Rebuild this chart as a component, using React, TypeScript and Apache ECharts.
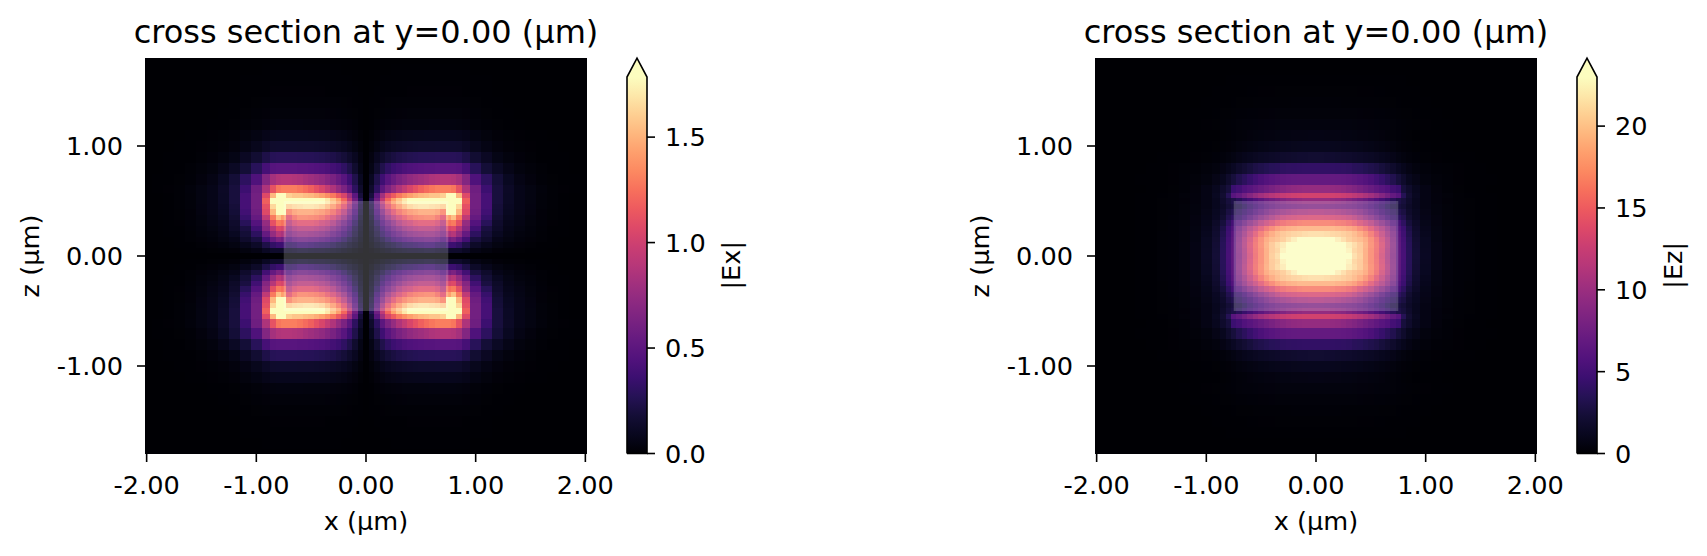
import React, { useEffect, useRef } from "react";
import * as echarts from "echarts";

const FONT = "DejaVu Sans";
const titleText = "cross section at y=0.00 (µm)";
const xName = "x (µm)";
const zName = "z (µm)";
const spatialTicks = [-2, -1, 0, 1, 2];
const spatialTicksZ = [-1, 0, 1];
const exTicks = [0, 0.5, 1, 1.5];
const ezTicks = [0, 5, 10, 15, 20];
const exMax = 1.785;
const ezMax = 23;
const boxX = [-0.75, 0.75];
const boxZ = [-0.5, 0.5];

const magmaStops = ["#000004", "#08071e", "#140e36", "#251255", "#3b0f70", "#51127c", "#641a80", "#782281", "#8c2981", "#a1307e", "#b73779", "#ca3e72", "#de4968", "#ed5a5f", "#f7705c", "#fc8961", "#fe9f6d", "#feb77e", "#fecf92", "#fde7a9", "#fcfdbf"];

// left half of the mesh (the field plots are mirror-symmetric about x=0 and z=0)
const xEdges = [-2.05, -1.95, -1.85, -1.75, -1.65, -1.55, -1.45, -1.35, -1.25, -1.15, -1.05, -0.95, -0.875, -0.825, -0.775, -0.725, -0.675, -0.625, -0.575, -0.525, -0.475, -0.425, -0.375, -0.325, -0.275, -0.225, -0.175, -0.125, -0.075, -0.025, 0.025];
const zEdges = [1.85, 1.75, 1.65, 1.55, 1.45, 1.35, 1.25, 1.15, 1.05, 0.95, 0.85, 0.75, 0.65, 0.575, 0.525, 0.475, 0.425, 0.375, 0.325, 0.275, 0.225, 0.175, 0.125, 0.075, 0.025, -0.025];

const exRows = [
  [0,0,0,0,0,0,0,0,0,0,0,0,0,0,0,0,0,0,0,0,0,0,0,0,0,0,0,0,0,0],
  [0,0,0,0,0,0,0,.0005,.001,.001,.001,.002,.002,.002,.002,.002,.002,.002,.002,.002,.002,.002,.002,.002,.002,.001,.001,.001,0,0],
  [0,0,0,0,0,0,0,.001,.001,.002,.002,.003,.004,.004,.004,.004,.004,.004,.004,.004,.004,.004,.004,.003,.003,.003,.002,.001,.001,0],
  [0,0,0,0,0,0,0,.001,.001,.002,.004,.005,.006,.006,.006,.006,.006,.006,.006,.006,.006,.006,.005,.005,.005,.004,.003,.002,.001,0],
  [0,0,0,0,0,0,.001,.001,.002,.004,.007,.009,.011,.011,.011,.011,.011,.011,.011,.011,.011,.01,.01,.009,.009,.007,.006,.004,.002,0],
  [0,0,0,0,0,.001,.001,.003,.005,.008,.013,.018,.021,.022,.022,.022,.022,.021,.021,.021,.021,.02,.019,.018,.016,.014,.011,.007,.003,0],
  [0,0,0,0,.001,.001,.003,.005,.008,.014,.022,.031,.036,.037,.037,.037,.037,.037,.036,.036,.035,.034,.033,.031,.028,.024,.019,.013,.005,0],
  [0,0,0,.001,.002,.003,.006,.01,.018,.032,.048,.068,.08,.082,.082,.082,.082,.082,.081,.08,.078,.076,.073,.069,.062,.054,.042,.028,.012,0],
  [0,0,.001,.002,.003,.006,.01,.018,.031,.056,.084,.119,.14,.144,.144,.144,.144,.143,.141,.14,.137,.133,.127,.12,.109,.095,.074,.049,.021,0],
  [0,.001,.002,.003,.005,.011,.019,.035,.059,.108,.162,.23,.27,.278,.278,.278,.278,.275,.273,.27,.265,.257,.246,.232,.211,.184,.143,.095,.04,0],
  [0,.001,.003,.005,.01,.02,.035,.065,.11,.18,.28,.4,.47,.48,.48,.48,.48,.47,.47,.46,.45,.44,.42,.39,.36,.31,.24,.15,.06,0],
  [0,.002,.004,.008,.015,.03,.055,.1,.18,.3,.44,.67,.82,.87,.88,.88,.87,.85,.82,.79,.76,.73,.68,.63,.56,.48,.37,.24,.1,0],
  [0,.002,.006,.012,.025,.045,.07,.12,.2,.36,.58,.85,1.12,1.27,1.3,1.3,1.3,1.27,1.23,1.18,1.11,1.04,.95,.86,.75,.64,.5,.3,.14,0],
  [0,.001,.004,.01,.02,.045,.07,.115,.2,.4,.6,1.07,1.52,1.84,1.87,1.61,1.57,1.57,1.54,1.52,1.48,1.43,1.36,1.28,1.16,1.04,.8,.5,.2,0],
  [0,.001,.004,.01,.02,.045,.07,.115,.2,.4,.6,1.18,1.84,1.87,1.87,1.87,1.87,1.87,1.87,1.87,1.84,1.79,1.7,1.57,1.43,1.21,.93,.59,.27,0],
  [0,.001,.004,.01,.02,.043,.07,.107,.187,.4,.6,1.11,1.64,1.82,1.84,1.6,1.64,1.66,1.68,1.68,1.66,1.62,1.52,1.39,1.25,1.07,.8,.5,.23,0],
  [0,.001,.004,.008,.018,.04,.064,.1,.18,.38,.58,1.07,1.52,1.79,1.79,1.29,1.39,1.43,1.43,1.43,1.39,1.36,1.29,1.2,1.07,.89,.66,.43,.2,0],
  [0,.001,.003,.007,.018,.036,.059,.09,.16,.34,.54,.93,1.29,1.55,1.43,1.07,1.21,1.29,1.29,1.27,1.25,1.2,1.11,1.02,.89,.75,.55,.36,.16,0],
  [0,.001,.003,.006,.016,.032,.054,.08,.14,.28,.46,.75,1.11,1.29,1.25,.89,1.02,1.07,1.07,1.07,1.04,.98,.93,.84,.71,.59,.45,.29,.125,0],
  [0,.001,.002,.005,.014,.027,.046,.07,.125,.21,.38,.68,.89,1.07,1.04,.75,.84,.89,.89,.89,.86,.82,.77,.68,.59,.48,.36,.23,.107,0],
  [0,0,.002,.004,.012,.023,.036,.06,.1,.18,.3,.54,.75,.89,.84,.64,.71,.75,.75,.73,.71,.68,.62,.55,.48,.39,.3,.2,.09,0],
  [0,0,.001,.003,.009,.018,.027,.045,.07,.14,.21,.39,.54,.64,.59,.46,.54,.57,.57,.55,.54,.5,.46,.41,.36,.29,.21,.14,.07,0],
  [0,0,.001,.002,.005,.011,.018,.027,.045,.08,.125,.23,.32,.36,.36,.3,.32,.36,.36,.34,.32,.3,.29,.25,.21,.18,.13,.09,.045,0],
  [0,0,0,.001,.002,.004,.007,.012,.018,.036,.054,.107,.14,.14,.14,.125,.14,.16,.16,.15,.14,.14,.125,.116,.1,.08,.06,.036,.018,0],
  [0,0,0,0,0,0,0,0,0,0,0,0,0,0,0,0,0,0,0,0,0,0,0,0,0,0,0,0,0,0],
];

const ezRows = [
  [0,0,0,0,0,0,0,0,0,0,.001,.002,.003,.004,.004,.005,.005,.006,.006,.007,.007,.007,.008,.008,.008,.008,.009,.009,.01,.01],
  [0,0,0,0,0,0,0,.001,.001,.003,.004,.006,.008,.01,.011,.012,.014,.015,.016,.017,.017,.018,.018,.019,.019,.019,.02,.02,.02,.02],
  [0,0,0,0,0,0,.001,.002,.004,.006,.011,.015,.02,.024,.028,.031,.034,.037,.04,.042,.044,.045,.046,.047,.048,.048,.049,.05,.05,.05],
  [0,0,0,0,0,.001,.002,.003,.006,.012,.02,.027,.036,.043,.05,.056,.06,.067,.07,.075,.078,.08,.083,.085,.086,.087,.088,.09,.09,.09],
  [0,0,0,0,.001,.002,.003,.006,.011,.02,.03,.04,.05,.06,.07,.085,.1,.11,.12,.125,.135,.14,.145,.15,.15,.155,.157,.16,.16,.16],
  [0,0,0,0,.001,.003,.005,.01,.018,.03,.05,.07,.09,.11,.13,.16,.18,.2,.21,.22,.235,.245,.255,.26,.265,.27,.27,.28,.28,.28],
  [0,0,0,.001,.002,.005,.008,.016,.028,.05,.075,.1,.14,.17,.21,.26,.3,.33,.35,.37,.39,.41,.42,.43,.44,.45,.45,.46,.46,.46],
  [0,0,0,.001,.003,.006,.01,.015,.022,.03,.04,.065,.1,.14,.2,.27,.33,.38,.43,.47,.51,.55,.58,.6,.63,.65,.67,.68,.69,.69],
  [0,0,0,.002,.005,.009,.012,.016,.025,.04,.07,.11,.17,.24,.33,.45,.55,.64,.72,.79,.85,.91,.96,1,1.05,1.08,1.11,1.13,1.15,1.15],
  [0,0,0,.004,.008,.015,.025,.035,.045,.08,.14,.2,.32,.46,.62,.85,1,1.15,1.3,1.42,1.53,1.62,1.72,1.8,1.88,1.94,1.99,2.03,2.07,2.07],
  [0,0,0,.01,.02,.035,.05,.08,.12,.18,.32,.46,.69,1.03,1.38,1.84,2.18,2.53,2.88,3.1,3.33,3.56,3.68,3.9,4,4.05,4.1,4.14,4.14,4.14],
  [0,0,0,.01,.023,.046,.06,.08,.16,.28,.46,.8,1.15,1.84,2.53,3.22,3.8,4.37,4.95,5.5,5.87,6.2,6.44,6.67,6.8,6.85,6.9,6.9,6.9,6.9],
  [0,0,0,.005,.012,.023,.046,.09,.18,.37,.69,1.15,1.84,2.53,4.6,5.06,5.75,6.2,6.67,7.13,7.6,8.05,8.5,8.86,9.2,9.43,9.55,9.66,9.66,9.66],
  [0,0,0,.01,.023,.046,.07,.14,.28,.39,.69,1.27,2.07,3.45,6.21,6.9,7.82,8.74,9.66,10.4,11,11.5,12,12.4,12.7,12.9,13,13.1,13.1,13.1],
  [0,0,0,.01,.023,.046,.09,.14,.23,.41,.69,1.15,1.84,2.53,2.99,3.68,4.37,5.06,5.75,6.44,7.13,7.59,8.05,8.51,8.97,9.2,9.43,9.66,9.66,9.66],
  [0,0,0,.01,.023,.046,.09,.14,.25,.46,.69,1.15,1.61,2.3,2.65,2.99,3.68,4.37,5.06,5.75,6.44,6.9,7.36,7.59,7.82,7.94,8.05,8.17,8.28,8.28],
  [0,0,0,.01,.023,.046,.09,.14,.28,.46,.8,1.27,1.84,2.76,3.22,3.8,4.4,5.1,5.98,6.9,7.8,8.6,9.2,9.66,10.1,10.4,10.6,10.6,10.8,10.8],
  [0,0,0,.01,.023,.046,.09,.16,.28,.51,.87,1.38,2.07,3.22,3.91,4.37,5.29,6.44,7.59,8.74,9.66,10.6,11.5,12.2,12.7,12.9,13.1,13.2,13.3,13.3],
  [0,0,0,.01,.023,.046,.09,.16,.28,.51,.92,1.61,2.53,3.91,5.06,5.98,7.36,8.74,9.89,11.3,12.4,13.3,14.3,15,15.4,15.6,15.9,16.1,16.1,16.1],
  [0,0,0,.01,.023,.046,.09,.16,.3,.58,1.04,1.84,3,4.6,5.75,7.59,9.2,10.8,12.2,13.8,15.2,16.3,17.3,17.9,18.4,18.6,18.9,18.9,18.9,18.9],
  [0,0,.005,.012,.023,.046,.115,.18,.32,.62,1.15,1.96,3.22,4.83,6.21,8.28,10.1,12,13.8,15.6,17,18.2,19.1,19.8,20.2,20.5,20.7,21,21.2,21.2],
  [0,0,.005,.012,.023,.046,.115,.18,.32,.64,1.27,2.07,3.45,5.06,6.44,8.74,10.8,12.9,15,16.6,18.2,19.1,19.6,20.2,21.2,22.1,23,23.5,23.7,23.7],
  [0,0,.005,.012,.023,.046,.115,.18,.35,.69,1.27,2.19,3.57,5.18,6.56,8.97,11,13.3,15.2,16.8,18.6,20,21,21.9,23,24.4,25.1,25.3,25.3,25.3],
  [0,0,.005,.012,.023,.046,.115,.18,.35,.69,1.33,2.25,3.63,5.24,6.62,8.86,10.7,13.1,15.1,16.6,18.4,20,20.7,22.3,23.7,26.2,27.1,27.8,28.1,28.1],
  [0,0,.005,.012,.023,.046,.115,.18,.35,.69,1.38,2.3,3.68,5.29,6.67,8.74,10.6,12.9,15,16.6,18.4,20.2,21.2,23,25.8,27.1,28.5,29.2,29.7,29.9],
];

function hexRgb(h: string) {
  return [parseInt(h.slice(1, 3), 16), parseInt(h.slice(3, 5), 16), parseInt(h.slice(5, 7), 16)];
}
function magma(t: number) {
  const c = Math.max(0, Math.min(1, t)) * (magmaStops.length - 1);
  const i = Math.min(Math.floor(c), magmaStops.length - 2);
  const a = hexRgb(magmaStops[i]);
  const b = hexRgb(magmaStops[i + 1]);
  const f = c - i;
  return `rgb(${Math.round(a[0] + (b[0] - a[0]) * f)},${Math.round(a[1] + (b[1] - a[1]) * f)},${Math.round(a[2] + (b[2] - a[2]) * f)})`;
}

// expand the read quadrant into [x0, x1, z0, z1, value] cells, both halves
function cellsFrom(rows: number[][]) {
  const cols: { a: number; b: number; i: number }[] = [];
  for (let i = 0; i < xEdges.length - 1; i++) cols.push({ a: xEdges[i], b: xEdges[i + 1], i });
  for (let i = xEdges.length - 3; i >= 0; i--) cols.push({ a: -xEdges[i + 1], b: -xEdges[i], i });
  const rws: { a: number; b: number; j: number }[] = [];
  for (let j = 0; j < zEdges.length - 1; j++) rws.push({ a: zEdges[j], b: zEdges[j + 1], j });
  for (let j = zEdges.length - 3; j >= 0; j--) rws.push({ a: -zEdges[j + 1], b: -zEdges[j], j });
  const out: number[][] = [];
  rws.forEach((r) => cols.forEach((c) => out.push([c.a, c.b, r.a, r.b, rows[r.j][c.i]])));
  return out;
}

const DOMAIN_X = [-2.015, 2.015];
const DOMAIN_Z = [-1.8, 1.8];

function heatSeries(rows: number[][], vmax: number, idx: number) {
  return {
    type: "custom",
    xAxisIndex: idx,
    yAxisIndex: idx,
    silent: true,
    progressive: 0,
    z: 1,
    data: cellsFrom(rows),
    encode: { x: [0, 1], y: [2, 3] },
    renderItem: (params: any, api: any) => {
      const cs = params.coordSys;
      const p0 = api.coord([api.value(0), api.value(2)]);
      const p1 = api.coord([api.value(1), api.value(3)]);
      const x0 = Math.round(Math.max(cs.x, Math.min(p0[0], p1[0])));
      const x1 = Math.round(Math.min(cs.x + cs.width, Math.max(p0[0], p1[0])));
      const y0 = Math.round(Math.max(cs.y, Math.min(p0[1], p1[1])));
      const y1 = Math.round(Math.min(cs.y + cs.height, Math.max(p0[1], p1[1])));
      return {
        type: "rect",
        shape: { x: x0, y: y0, width: x1 - x0, height: y1 - y0 },
        style: { fill: magma(api.value(4) / vmax) },
      };
    },
  };
}

function boxSeries(idx: number) {
  return {
    type: "custom",
    xAxisIndex: idx,
    yAxisIndex: idx,
    silent: true,
    z: 2,
    data: [[boxX[0], boxX[1], boxZ[0], boxZ[1]]],
    encode: { x: [0, 1], y: [2, 3] },
    renderItem: (_: any, api: any) => {
      const p0 = api.coord([api.value(0), api.value(3)]);
      const p1 = api.coord([api.value(1), api.value(2)]);
      return {
        type: "rect",
        shape: { x: p0[0], y: p0[1], width: p1[0] - p0[0], height: p1[1] - p0[1] },
        style: { fill: "rgba(255,255,255,0.2)" },
      };
    },
  };
}

function barSeries(vmax: number, idx: number) {
  return {
    type: "custom",
    xAxisIndex: idx,
    yAxisIndex: idx,
    silent: true,
    z: 3,
    data: [[0, 1, 0, vmax]],
    encode: { x: [0, 1], y: [2, 3] },
    renderItem: (_: any, api: any) => {
      const p0 = api.coord([api.value(0), api.value(3)]);
      const p1 = api.coord([api.value(1), api.value(2)]);
      const h = p1[1] - p0[1];
      const tip = p0[1] - h * 0.05;
      const stops = magmaStops.map((c, i) => ({ offset: i / (magmaStops.length - 1), color: c }));
      return {
        type: "group",
        children: [
          {
            type: "rect",
            shape: { x: p0[0], y: p0[1], width: p1[0] - p0[0], height: h },
            style: { fill: new echarts.graphic.LinearGradient(0, 1, 0, 0, stops) },
          },
          {
            type: "polygon",
            shape: { points: [[p0[0], p0[1]], [(p0[0] + p1[0]) / 2, tip], [p1[0], p0[1]]] },
            style: { fill: magmaStops[magmaStops.length - 1] },
          },
          {
            type: "polyline",
            shape: { points: [[p0[0], p1[1]], [p0[0], p0[1]], [(p0[0] + p1[0]) / 2, tip], [p1[0], p0[1]], [p1[0], p1[1]], [p0[0], p1[1]]] },
            style: { fill: "none", stroke: "#000", lineWidth: 1.6 },
          },
        ],
      };
    },
  };
}

// tick marks: x ticks hang below the plot, left ticks stick out left, colorbar ticks stick out right
function tickSeries(ticks: number[], idx: number, side: "bottom" | "left" | "right", extent: number[]) {
  return {
    type: "custom",
    xAxisIndex: idx,
    yAxisIndex: idx,
    silent: true,
    z: 4,
    clip: false,
    data: ticks.map((t) => [t]),
    encode: side === "bottom" ? { x: 0 } : { y: 0 },
    renderItem: (_: any, api: any) => {
      const v = api.value(0);
      let x1: number, y1: number, x2: number, y2: number;
      if (side === "bottom") {
        const p = api.coord([v, extent[0]]);
        x1 = x2 = p[0];
        y1 = p[1];
        y2 = p[1] + 8;
      } else if (side === "left") {
        const p = api.coord([extent[0], v]);
        y1 = y2 = p[1];
        x1 = p[0];
        x2 = p[0] - 8;
      } else {
        const p = api.coord([extent[1], v]);
        y1 = y2 = p[1];
        x1 = p[0];
        x2 = p[0] + 8;
      }
      return {
        type: "line",
        shape: { x1, y1, x2, y2 },
        style: { stroke: "#000", lineWidth: 1.6 },
      };
    },
  };
}

const LABEL = { color: "#000", fontFamily: FONT, fontSize: 25.6 };
const NAME = { color: "#000", fontFamily: FONT, fontSize: 25.6 };

function plotAxes(idx: number) {
  return {
    x: {
      gridIndex: idx,
      type: "value",
      min: DOMAIN_X[0],
      max: DOMAIN_X[1],
      name: xName,
      nameLocation: "middle",
      nameGap: 54,
      nameTextStyle: NAME,
      axisLine: { show: false },
      splitLine: { show: false },
      axisTick: { show: false },
      axisLabel: { ...LABEL, margin: 18, customValues: spatialTicks, formatter: (v: number) => v.toFixed(2) },
    },
    y: {
      gridIndex: idx,
      type: "value",
      min: DOMAIN_Z[0],
      max: DOMAIN_Z[1],
      name: zName,
      nameLocation: "middle",
      nameGap: 102,
      nameRotate: 90,
      nameTextStyle: NAME,
      axisLine: { show: false },
      splitLine: { show: false },
      axisTick: { show: false },
      axisLabel: { ...LABEL, margin: 22, customValues: spatialTicksZ, formatter: (v: number) => v.toFixed(2) },
    },
  };
}

function barAxes(idx: number, vmax: number, ticks: number[], digits: number, name: string) {
  return {
    x: { gridIndex: idx, type: "value", min: 0, max: 1, show: false },
    y: {
      gridIndex: idx,
      type: "value",
      position: "right",
      min: 0,
      max: vmax,
      name,
      nameLocation: "middle",
      nameGap: digits ? 71 : 63,
      nameRotate: 90,
      nameTextStyle: NAME,
      axisLine: { show: false },
      splitLine: { show: false },
      axisTick: { show: false },
      axisLabel: { ...LABEL, margin: 18, customValues: ticks, formatter: (v: number) => v.toFixed(digits) },
    },
  };
}

export default function App() {
  const ref = useRef<HTMLDivElement>(null);
  useEffect(() => {
    const chart = echarts.init(ref.current!, undefined, { renderer: "svg" });
    const a0 = plotAxes(0);
    const b0 = barAxes(1, exMax, exTicks, 1, "|Ex|");
    const a1 = plotAxes(2);
    const b1 = barAxes(3, ezMax, ezTicks, 0, "|Ez|");
    chart.setOption({
      animation: false,
      backgroundColor: "#fff",
      title: [145 + 221 - 5, 1095 + 221 - 5].map((left) => ({
        text: titleText,
        left,
        top: 11,
        textAlign: "center",
        textStyle: { color: "#000", fontFamily: FONT, fontSize: 32, fontWeight: "normal" },
      })),
      grid: [
        { left: 145, top: 58, width: 442, height: 396 },
        { left: 627, top: 77, width: 20, height: 376.5 },
        { left: 1095, top: 58, width: 442, height: 396 },
        { left: 1577, top: 77, width: 20, height: 376.5 },
      ],
      xAxis: [a0.x, b0.x, a1.x, b1.x],
      yAxis: [a0.y, b0.y, a1.y, b1.y],
      series: [
        heatSeries(exRows, exMax, 0),
        boxSeries(0),
        barSeries(exMax, 1),
        tickSeries(spatialTicks, 0, "bottom", DOMAIN_Z),
        tickSeries(spatialTicksZ, 0, "left", DOMAIN_X),
        tickSeries(exTicks, 1, "right", [0, 1]),
        heatSeries(ezRows, ezMax, 2),
        boxSeries(2),
        barSeries(ezMax, 3),
        tickSeries(spatialTicks, 2, "bottom", DOMAIN_Z),
        tickSeries(spatialTicksZ, 2, "left", DOMAIN_X),
        tickSeries(ezTicks, 3, "right", [0, 1]),
      ],
    });
    return () => chart.dispose();
  }, []);
  return <div ref={ref} style={{ position: "fixed", left: 0, top: 0, width: 1707, height: 556 }} />;
}
